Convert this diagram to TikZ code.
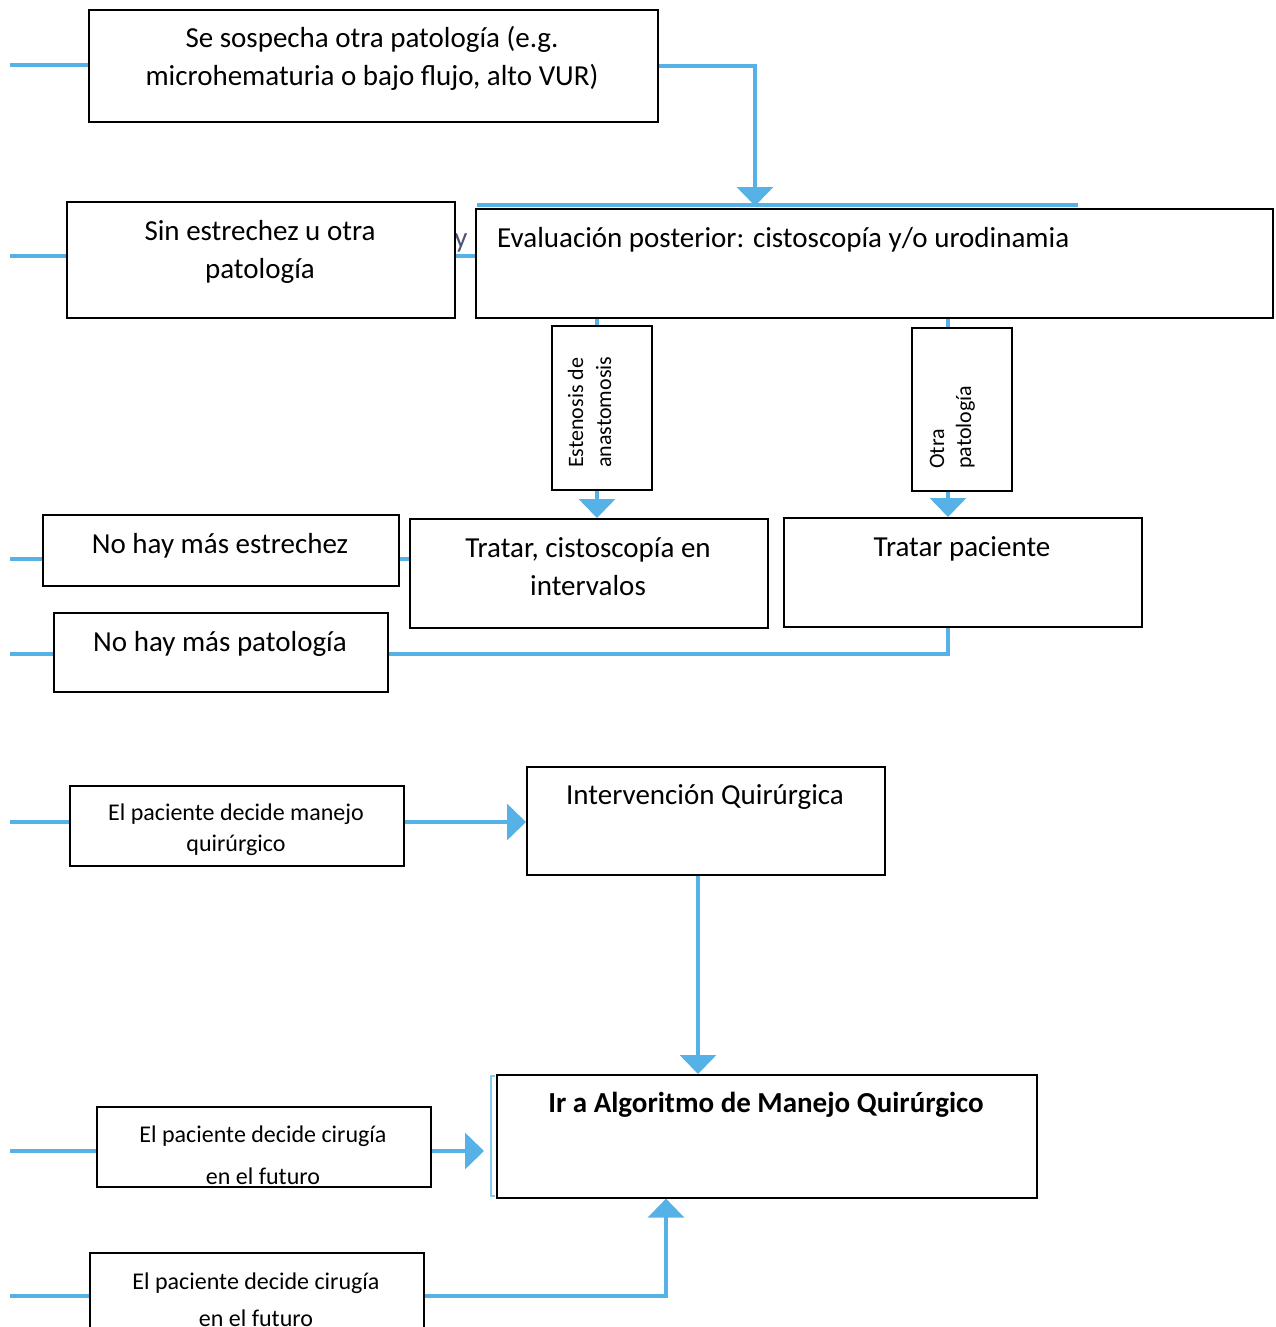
\documentclass[tikz,border=0pt]{standalone}
\usepackage{fontspec}
\setmainfont{Carlito}
\usetikzlibrary{arrows.meta,backgrounds}
\definecolor{flow}{RGB}{86,178,230}
\definecolor{frag}{RGB}{75,85,115}

\begin{document}
\begin{tikzpicture}[x=1pt,y=-1pt,
  box/.style={draw=black, line width=1.6pt, fill=white, inner sep=0pt, anchor=north west},
  big/.style={font=\fontsize{29}{35}\selectfont, inner sep=0pt, anchor=base},
  small/.style={font=\fontsize{24}{29}\selectfont, inner sep=0pt, anchor=base},
  vert/.style={font=\fontsize{22}{26}\selectfont, inner sep=0pt, rotate=90, anchor=base west},
  link/.style={draw=flow, line width=3.5pt},
  flowarrow/.style={link, -{Triangle[width=36pt,length=19pt]}},
]
\useasboundingbox (0,0) rectangle (1276,1327);

% boxes
\node[box, minimum width=569pt, minimum height=112pt] (b1) at (88,9) {};
\node[box, minimum width=388pt, minimum height=116pt] (b2) at (66,201) {};
\node[box, minimum width=797pt, minimum height=109pt] (b3) at (475,208) {};
\node[box, minimum width=100pt, minimum height=164pt] (b4) at (551,325) {};
\node[box, minimum width=100pt, minimum height=163pt] (b5) at (911,327) {};
\node[box, minimum width=356pt, minimum height=71pt]  (b6) at (42,514) {};
\node[box, minimum width=358pt, minimum height=109pt] (b7) at (409,518) {};
\node[box, minimum width=358pt, minimum height=109pt] (b8) at (783,517) {};
\node[box, minimum width=334pt, minimum height=79pt]  (b9) at (53,612) {};
\node[box, minimum width=334pt, minimum height=80pt]  (b10) at (69,785) {};
\node[box, minimum width=358pt, minimum height=108pt] (b11) at (526,766) {};
\node[box, minimum width=540pt, minimum height=123pt] (b12) at (496,1074) {};
\node[box, minimum width=334pt, minimum height=80pt]  (b13) at (96,1106) {};
\node[box, minimum width=334pt, minimum height=100pt] (b14) at (89,1252) {};

% texts
\node[big] (t1a) at (372,48) {Se sospecha otra patología (e.g.};
\node[big] (t1b) at (372,86) {microhematuria o bajo flujo, alto VUR)};
\node[big] (t2a) at (260,240) {Sin estrechez u otra};
\node[big] (t2b) at (260,278) {patología};
\node[big, anchor=base west] (t3) at (497,247) {Evaluación posterior: cistoscopía y/o urodinamia};
\node[vert] (t4a) at (583,468) {Estenosis de};
\node[vert] (t4b) at (611,468) {anastomosis};
\node[vert] (t5a) at (944,469) {Otra};
\node[vert] (t5b) at (971,469) {patología};
\node[big] (t6) at (220,553) {No hay más estrechez};
\node[big] (t7a) at (588,557) {Tratar, cistoscopía en};
\node[big] (t7b) at (588,595) {intervalos};
\node[big] (t8) at (962,556) {Tratar paciente};
\node[big] (t9) at (220,651) {No hay más patología};
\node[small] (t10a) at (236,820) {El paciente decide manejo};
\node[small] (t10b) at (236,851) {quirúrgico};
\node[big] (t11) at (705,804) {Intervención Quirúrgica};
\node[big, font=\fontsize{29}{35}\selectfont\bfseries] (t12) at (766,1112) {Ir a Algoritmo de Manejo Quirúrgico};
\node[small] (t13a) at (263,1142) {El paciente decide cirugía};
\begin{scope}
  \clip (b13.north west) rectangle (b13.south east);
  \node[small] (t13b) at (263,1184) {en el futuro};
\end{scope}
\node[small] (t14a) at (256,1289) {El paciente decide cirugía};
\node[small] (t14b) at (256,1326) {en el futuro};

% connectors, behind the boxes
\begin{scope}[on background layer]
  \coordinate (s1) at (10,65);
  \coordinate (s2) at (10,256);
  \coordinate (s6) at (10,559);
  \coordinate (s9) at (10,654);
  \coordinate (s10) at (10,822);
  \coordinate (s13) at (10,1151);
  \coordinate (s14) at (10,1296);
  \draw[link] (s1) -- (s1 -| b1.west);
  \draw[link] (s2) -- (s2 -| b2.west);
  \draw[link] (s6) -- (s6 -| b6.west);
  \draw[link] (s9) -- (s9 -| b9.west);
  \draw[link] (s10) -- (s10 -| b10.west);
  \draw[link] (s13) -- (s13 -| b13.west);
  \draw[link] (s14) -- (s14 -| b14.west);

  \coordinate (top3) at (755,206);
  \draw[flowarrow] (b1.east) -| (top3);
  \coordinate (l1) at (477,205);
  \coordinate (l2) at (1078,205);
  \draw[link] (l1) -- (l2);
  \draw[link] (b2.east |- s2) -- (b3.west |- s2);
  \node[big, text=frag] (yfrag) at (461,247) {y};

  \coordinate (v1) at (597,0);
  \coordinate (v2) at (948,0);
  \coordinate (v3) at (698,0);
  \coordinate (v4) at (666,0);
  \draw[link] (b3.south -| v1) -- (b4.north -| v1);
  \draw[flowarrow] (b4.south -| v1) -- (b7.north -| v1);
  \draw[link] (b3.south -| v2) -- (b5.north -| v2);
  \draw[flowarrow] (b5.south -| v2) -- (b8.north -| v2);
  \draw[link] (b6.east |- s6) -- (b7.west |- s6);
  \draw[link] (b9.east |- s9) -| (b8.south -| v2);
  \draw[flowarrow] (b10.east |- s10) -- (b11.west |- s10);
  \draw[flowarrow] (b11.south -| v3) -- (b12.north -| v3);
  \coordinate (end13) at (484,1151);
  \draw[flowarrow] (b13.east |- s13) -- (end13);
  \draw[flowarrow] (b14.east |- s14) -| (b12.south -| v4);
  \draw[draw=flow!70, line width=1.5pt] (495,1076) -- (491,1076) -- (491,1196) -- (495,1196);
\end{scope}
\end{tikzpicture}
\end{document}
